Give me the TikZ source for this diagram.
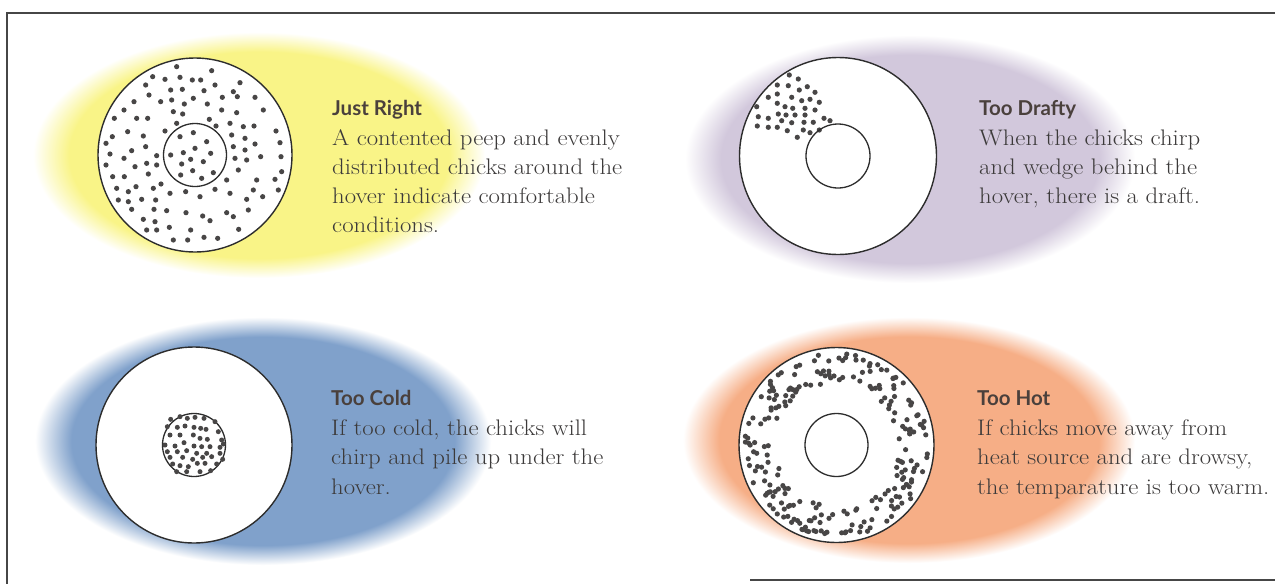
\documentclass[tikz,border=0pt]{standalone}
\usepackage{fontspec}
\setmainfont{Latin Modern Roman}[FakeStretch=1.1]
\newfontfamily\headfont{Lato}
\definecolor{gyellow}{RGB}{249,244,135}
\definecolor{gpurple}{RGB}{210,200,220}
\definecolor{gblue}{RGB}{128,161,203}
\definecolor{gorange}{RGB}{246,174,134}
\definecolor{linec}{RGB}{45,45,45}
\definecolor{dotc}{RGB}{72,70,70}
\definecolor{bodyc}{RGB}{60,58,58}
\definecolor{headc}{RGB}{74,64,60}
\definecolor{framec}{RGB}{70,70,70}
\pgfdeclareradialshading{glowyellow}{\pgfpoint{0bp}{0bp}}{color(0bp)=(gyellow);color(21bp)=(gyellow);color(25bp)=(white);color(50bp)=(white)}
\pgfdeclareradialshading{glowpurple}{\pgfpoint{0bp}{0bp}}{color(0bp)=(gpurple);color(21bp)=(gpurple);color(25bp)=(white);color(50bp)=(white)}
\pgfdeclareradialshading{glowblue}{\pgfpoint{0bp}{0bp}}{color(0bp)=(gblue);color(21bp)=(gblue);color(25bp)=(white);color(50bp)=(white)}
\pgfdeclareradialshading{gloworange}{\pgfpoint{0bp}{0bp}}{color(0bp)=(gorange);color(21bp)=(gorange);color(25bp)=(white);color(50bp)=(white)}
\begin{document}
\begin{tikzpicture}[x=1pt,y=-1pt,
  ring/.style={draw=linec, line width=1.4pt, fill=white},
  hole/.style={draw=linec, line width=1.3pt},
  chick/.style={fill=dotc},
  head/.style={anchor=base west, inner sep=0pt, text=headc, font=\headfont\bfseries\fontsize{20.5}{24}\selectfont},
  body/.style={anchor=base west, inner sep=0pt, text=bodyc, font=\fontsize{22.5}{29}\selectfont},
  frame/.style={draw=framec, line width=1.1pt}]
\useasboundingbox (0,0) rectangle (1275,584);
\fill[white] (0,0) rectangle (1275,584);
% frame
\coordinate (ftl) at (7,13);
\coordinate (ftr) at (1275,13);
\coordinate (fbl) at (7,584);
\coordinate (fbs) at (750,580);
\coordinate (fbr) at (1275,580);
\draw[frame] (ftr) -- (ftl) -- (fbl);
\draw[frame] (fbs) -- (fbr);
% glows
\shade[shading=glowyellow] (259,155) ellipse [x radius=226, y radius=123];
\shade[shading=glowpurple] (910,159) ellipse [x radius=225, y radius=124];
\shade[shading=glowblue] (263,441) ellipse [x radius=228, y radius=124];
\shade[shading=gloworange] (909,440) ellipse [x radius=226, y radius=123];
% centres
\coordinate (jr) at (195,155);
\coordinate (td) at (838,156);
\coordinate (tc) at (194,445);
\coordinate (th) at (836.5,445);
% Just Right
\draw[ring] (jr) circle (97);
\foreach \x/\y in {530/200,635/212,458/230,495/238,540/232,577/240,602/240,645/255,720/248,
 437/255,512/270,547/268,612/272,700/275,447/285,482/305,515/300,553/312,580/295,622/312,667/292,712/290,765/292,
 402/305,372/330,520/335,548/342,665/330,710/338,790/330,343/355,410/355,443/355,530/370,628/358,648/378,690/370,730/380,762/378,
 383/395,495/393,580/398,540/410,695/405,735/415,828/393,337/410,430/408,620/425,700/440,765/432,840/428,
 318/430,395/452,437/440,512/465,550/458,585/445,632/460,735/450,782/470,843/470,
 330/462,372/475,470/467,545/492,572/478,610/485,705/475,740/480,
 318/495,405/500,440/490,470/495,578/512,640/518,715/510,845/515,
 338/530,373/530,445/522,542/525,605/535,680/540,770/540,825/538,
 350/565,385/575,408/560,460/565,483/552,510/580,557/575,600/590,645/568,690/580,760/570,835/570,
 355/600,385/605,425/598,467/600,740/598,788/590,
 395/628,462/628,500/632,558/638,608/648,680/638,745/630,
 430/658,465/665,630/662,700/650,440/690,470/690,508/682,572/690,716/688,
 520/720,563/720,612/712,653/715}
  \fill[chick] (\x/3,\y/3) circle (2.6);
\draw[hole] (jr) circle (31.5);
% Too Drafty
\draw[ring] (td) circle (98.5);
\foreach \x/\y in {789.3/75,798.3/79,777.3/85,788.3/85.7,799.3/90,807.3/86.7,815/92.3,768.3/97.3,777.3/94,
 791.7/97.3,801.7/100.7,810/99.3,819.3/102.3,756.7/106.7,777.3/103.3,785/106.7,792.7/108.3,805/108.3,815/110,
 758.3/116.7,768.3/118.3,778.3/114,786/115,795/115,805/115,824/118.3,830/120.7,781.7/120.7,791.7/122.7,804/122.3,
 813.3/122.3,757.3/126,768.3/127.3,777.3/127.3,787.3/130.7,803.3/130,810/132.7,819.3/130,797.3/137.3}
  \fill[chick] (\x,\y) circle (2.6);
\draw[hole] (td) circle (32);
% Too Cold
\draw[ring] (tc) circle (98);
\draw[hole] (tc) circle (31.5);
\foreach \x/\y in {272/298,300/290,322/295,345/292,372/295,405/305,
 262/320,292/322,315/318,342/322,362/325,378/328,415/335,
 270/345,300/345,340/345,360/355,382/358,425/360,
 255/375,285/378,312/368,342/378,365/380,390/380,420/382,430/372,
 262/395,292/395,320/392,350/400,380/400,420/400,
 270/412,308/412,338/418,368/412,395/410,428/418,
 278/432,300/437,325/440,352/430,375/430,410/432,
 290/455,320/455,360/455,392/452}
  \fill[chick] (80+\x/3,320+\y/3) circle (2.5);
% Too Hot
\draw[ring] (th) circle (97.5);
\pgfmathsetseed{12}
\foreach \i in {1,...,230}{
  \pgfmathsetmacro{\ang}{360*rnd}
  \pgfmathsetmacro{\rad}{sqrt(3800+(8450-3800)*rnd)}
  \fill[chick] (th) ++(\ang:\rad) circle (2.6);
}
\draw[hole] (th) circle (31.5);
% texts
\node[head] (jrh) at (332,115) {Just Right};
\node[body] (jr1) at (332,145) {A contented peep and evenly};
\node[body] (jr2) at (332,174) {distributed chicks around the};
\node[body] (jr3) at (332,203) {hover indicate comfortable};
\node[body] (jr4) at (332,232) {conditions.};
\node[head] (tdh) at (979,115) {Too Drafty};
\node[body] (td1) at (979,145) {When the chicks chirp};
\node[body] (td2) at (979,174) {and wedge behind the};
\node[body] (td3) at (979,203) {hover, there is a draft.};
\node[head] (tch) at (331,405) {Too Cold};
\node[body] (tc1) at (331,435) {If too cold, the chicks will};
\node[body] (tc2) at (331,464.5) {chirp and pile up under the};
\node[body] (tc3) at (331,494) {hover.};
\node[head] (thh) at (977,405) {Too Hot};
\node[body] (th1) at (977,435) {If chicks move away from};
\node[body] (th2) at (977,464.5) {heat source and are drowsy,};
\node[body] (th3) at (977,494) {the temparature is too warm.};
\end{tikzpicture}
\end{document}
